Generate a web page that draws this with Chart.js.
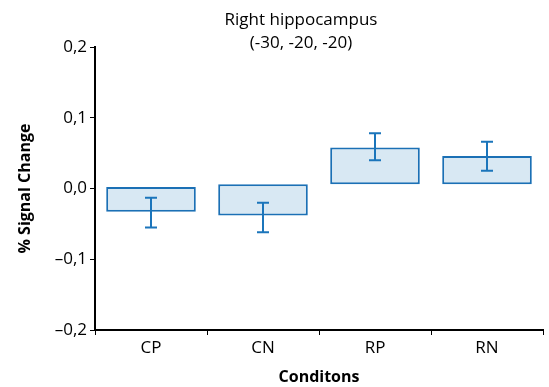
<!DOCTYPE html>
<html>
<head>
<meta charset="utf-8">
<script src="https://cdn.jsdelivr.net/npm/chart.js@4"></script>
<style>
  html, body { margin: 0; padding: 0; background: #fff; }
  #wrap { width: 549px; height: 387px; }
</style>
</head>
<body>
<div id="wrap"><canvas id="chart" width="549" height="387"></canvas></div>
<script>
const conditions = ["CP", "CN", "RP", "RN"];
const barFrom = [0.002, 0.006, 0.006, 0.006];
const barTo = [-0.033, -0.038, 0.058, 0.046];
const errLow = [-0.055, -0.062, 0.040, 0.025];
const errHigh = [-0.013, -0.020, 0.078, 0.066];
const yTicks = [-0.2, -0.1, 0, 0.1, 0.2];
const titleLines = ["Right hippocampus", "(-30, -20, -20)"];

const fontFam = "'Open Sans', sans-serif";

// error bars drawn through the scales
const errorBars = {
  id: "errorBars",
  afterDatasetsDraw(c) {
    const ctx = c.ctx, x = c.scales.x, y = c.scales.y;
    ctx.save();
    ctx.strokeStyle = "#1b75bb";
    ctx.lineWidth = 2;
    conditions.forEach((cat, i) => {
      const px = x.getPixelForValue(i);
      const lo = y.getPixelForValue(errLow[i]);
      const hi = y.getPixelForValue(errHigh[i]);
      ctx.beginPath();
      ctx.moveTo(px, lo); ctx.lineTo(px, hi);
      ctx.moveTo(px - 6, lo); ctx.lineTo(px + 6, lo);
      ctx.moveTo(px - 6, hi); ctx.lineTo(px + 6, hi);
      ctx.stroke();
    });
    ctx.restore();
  }
};

const topTitle = {
  id: "topTitle",
  afterDraw(c) {
    const ctx = c.ctx;
    ctx.save();
    ctx.fillStyle = "#000";
    ctx.font = "17px " + fontFam;
    ctx.textAlign = "center";
    ctx.textBaseline = "middle";
    ctx.fillText(titleLines[0], 301, 20);
    ctx.fillText(titleLines[1], 301, 43);
    ctx.restore();
  }
};

new Chart(document.getElementById("chart"), {
  type: "bar",
  data: {
    labels: conditions,
    datasets: [{
      data: conditions.map((c, i) => [barFrom[i], barTo[i]]),
      backgroundColor: "#d8e8f3",
      borderColor: "#1b70b5",
      borderWidth: 2,
      borderSkipped: false,
      categoryPercentage: 1,
      barPercentage: 0.8
    }]
  },
  options: {
    responsive: false,
    animation: false,
    layout: { padding: { top: 47, right: 6, left: 0, bottom: 0 } },
    plugins: { legend: { display: false }, tooltip: { enabled: false }, title: { display: false } },
    scales: {
      x: {
        grid: { drawOnChartArea: false, tickLength: 5, color: "#000", offset: true },
        border: { color: "#000", width: 2 },
        ticks: { color: "#000", font: { family: fontFam, size: 17 }, padding: 3 },
        title: { display: true, text: "Conditons", color: "#000", font: { family: fontFam, size: 16, weight: "bold" }, padding: { top: 0, bottom: 0 } },
        afterFit(s) { s.height = 57; }
      },
      y: {
        min: -0.2, max: 0.2,
        afterBuildTicks(s) { s.ticks = yTicks.map(v => ({ value: v })); },
        grid: { drawOnChartArea: false, tickLength: 5, color: "#000" },
        border: { color: "#000", width: 2 },
        ticks: {
          color: "#000", font: { family: fontFam, size: 17 }, padding: 3,
          callback: v => (v < 0 ? "\u2013" : "") + Math.abs(v).toFixed(1).replace(".", ",")
        },
        title: { display: true, text: "% Signal Change", color: "#000", font: { family: fontFam, size: 16, weight: "bold" }, padding: { top: 16, bottom: 4 } },
        afterFit(s) { s.width = 95; }
      }
    }
  },
  plugins: [errorBars, topTitle]
});
</script>
</body>
</html>
